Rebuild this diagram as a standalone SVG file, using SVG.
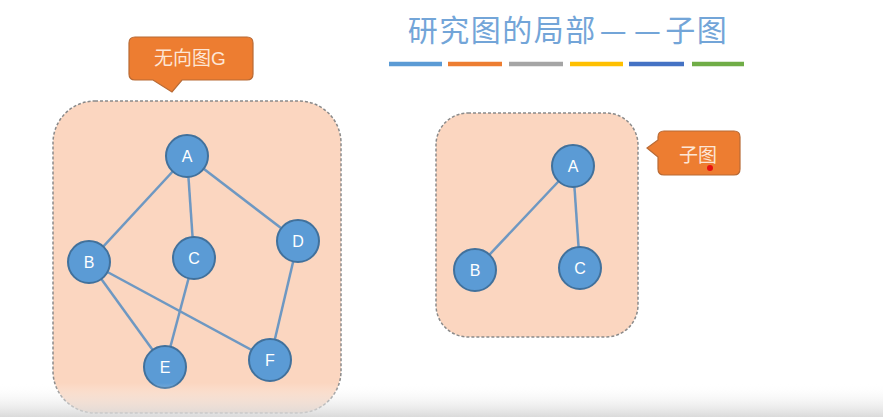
<svg xmlns="http://www.w3.org/2000/svg" width="883" height="417" viewBox="0 0 883 417">
<defs>
<linearGradient id="fade" x1="0" y1="0" x2="0" y2="1">
<stop offset="0" stop-color="#ffffff" stop-opacity="0"/>
<stop offset="1" stop-color="#d6d6d6" stop-opacity="0.9"/>
</linearGradient>
</defs>
<style>
.box{fill:#fbd6c0;stroke:#8a8a8a;stroke-width:1.5;stroke-dasharray:3 2}
.node circle{fill:#5b9bd5;stroke:#41719c;stroke-width:2}
.node text{fill:#ffffff;font-family:"Liberation Sans",Arial,sans-serif;font-size:16px;text-anchor:middle;dominant-baseline:central}
.edges line{stroke:#6e98c2;stroke-width:2.5}
.callout path{fill:#ed7d31;stroke:#b86a35;stroke-width:1.2}
.callout text{fill:#fde6d6;font-family:"Liberation Sans","Noto Sans CJK SC",sans-serif;font-size:19px;text-anchor:middle}
.bar{stroke-width:4.5}
.title{font-family:"Noto Sans CJK SC",sans-serif;font-size:30px;letter-spacing:1.5px;fill:#73a5d8;font-feature-settings:"liga" 0,"calt" 0,"ccmp" 0;font-variant-ligatures:none}
</style>
<rect width="883" height="417" fill="#ffffff"/>
<text class="title" x="568" y="41" text-anchor="middle">研究图的局部<tspan dx="3">—</tspan><tspan dx="6">—</tspan><tspan dx="3">子图</tspan></text>
<g id="bars">
<line class="bar" x1="389" y1="64" x2="442" y2="64" stroke="#5b9bd5"/>
<line class="bar" x1="448" y1="64" x2="502" y2="64" stroke="#ed7d31"/>
<line class="bar" x1="509" y1="64" x2="563" y2="64" stroke="#a5a5a5"/>
<line class="bar" x1="570" y1="64" x2="623" y2="64" stroke="#ffc000"/>
<line class="bar" x1="629" y1="64" x2="684" y2="64" stroke="#4472c4"/>
<line class="bar" x1="692" y1="64" x2="744" y2="64" stroke="#70ad47"/>
</g>
<rect class="box" x="53" y="101" width="288" height="312" rx="42"/>
<rect class="box" x="436" y="113" width="202" height="224" rx="32"/>
<g id="callout-g" class="callout">
<path d="M135 37 H247 Q253 37 253 43 V74 Q253 80 247 80 H182 L172 92 L153 80 H135 Q129 80 129 74 V43 Q129 37 135 37 Z"/>
<text x="190" y="65">无向图G</text>
</g>
<g id="callout-sub" class="callout">
<path d="M664 131 H734 Q740 131 740 137 V169 Q740 175 734 175 H664 Q658 175 658 169 V157 L647 148 L658 140 V137 Q658 131 664 131 Z"/>
<text x="698" y="162">子图</text>
</g>
<circle cx="710" cy="168" r="3" fill="#e81010"/>
<g id="edges" class="edges">
<line x1="187" y1="156" x2="89" y2="262"/>
<line x1="187" y1="156" x2="194" y2="258"/>
<line x1="187" y1="156" x2="298" y2="241"/>
<line x1="89" y1="262" x2="165" y2="367"/>
<line x1="89" y1="262" x2="270" y2="360"/>
<line x1="194" y1="258" x2="165" y2="367"/>
<line x1="298" y1="241" x2="270" y2="360"/>
<line x1="573" y1="166" x2="475" y2="270"/>
<line x1="573" y1="166" x2="580" y2="268"/>
</g>
<g id="A" class="node"><circle cx="187" cy="156" r="21"/><text x="187" y="156">A</text></g>
<g id="B" class="node"><circle cx="89" cy="262" r="21"/><text x="89" y="262">B</text></g>
<g id="C" class="node"><circle cx="194" cy="258" r="21"/><text x="194" y="258">C</text></g>
<g id="D" class="node"><circle cx="298" cy="241" r="21"/><text x="298" y="241">D</text></g>
<g id="E" class="node"><circle cx="165" cy="367" r="21"/><text x="165" y="367">E</text></g>
<g id="F" class="node"><circle cx="270" cy="360" r="21"/><text x="270" y="360">F</text></g>
<g id="sA" class="node"><circle cx="573" cy="166" r="21"/><text x="573" y="166">A</text></g>
<g id="sB" class="node"><circle cx="475" cy="270" r="21"/><text x="475" y="270">B</text></g>
<g id="sC" class="node"><circle cx="580" cy="268" r="21"/><text x="580" y="268">C</text></g>
<rect x="0" y="383" width="883" height="34" fill="url(#fade)"/>
</svg>
